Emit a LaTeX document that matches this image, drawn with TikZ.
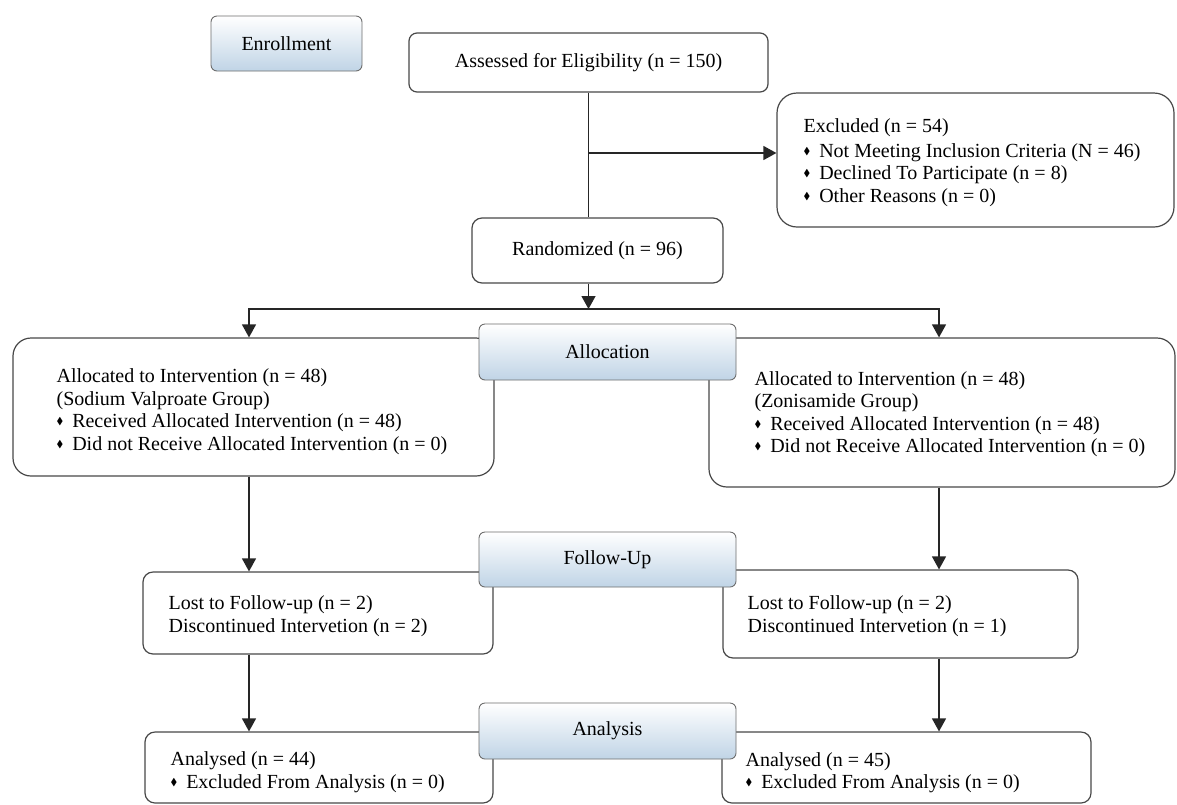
\documentclass[tikz,border=0pt]{standalone}
\usepackage{fontspec}
\setmainfont{Liberation Serif}
\usepackage{amssymb}
\usepackage{graphicx}
\usetikzlibrary{arrows.meta,positioning,calc}

\definecolor{stageblue}{RGB}{192,212,230}
\definecolor{edgegray}{RGB}{72,72,72}
\newcommand{\dmd}{\raisebox{0.3ex}{\scalebox{0.5}{$\blacklozenge$}}\hspace{0.45em}}

\begin{document}
\begin{tikzpicture}[x=1pt, y=-1pt,
  box/.style={draw=edgegray, line width=1.2pt, rounded corners=#1, fill=white,
    inner sep=0pt, font=\fontsize{20}{22.5}\selectfont},
  box/.default=10pt,
  stage/.style={draw=edgegray!80, line width=0.9pt, rounded corners=6pt,
    top color=white, bottom color=stageblue, inner sep=0pt,
    minimum width=257pt, minimum height=56pt, font=\fontsize{20}{22.5}\selectfont},
  txt/.style={anchor=west, align=left, inner sep=0pt,
    font=\fontsize{20}{22.5}\selectfont},
  e/.style={draw=black!85, line width=1.3pt},
  arr/.style={e, -{Triangle[length=13pt, width=14pt]}},
]
\useasboundingbox (0,0) rectangle (1177,804);
% enrollment
\node[stage, minimum width=151pt, minimum height=55pt] (enroll) at (286.5,43.5) {Enrollment};
\node[box=8pt, minimum width=359pt, minimum height=59pt] (assess) at (588.5,62.5) {Assessed for Eligibility (n = 150)};
\node[box=20pt, minimum width=397pt, minimum height=134pt] (excl) at (975.5,160) {};
\node[txt] (exclT) at ([xshift=27pt, yshift=-2.5pt]excl.west)
  {Excluded (n = 54)\\[2pt]
   \dmd Not Meeting Inclusion Criteria (N = 46)\\
   \dmd Declined To Participate (n = 8)\\
   \dmd Other Reasons (n = 0)};
\node[box=10pt, minimum width=251pt, minimum height=65pt] (rand) at (597.5,250.5) {Randomized (n = 96)};
% allocation
\node[box=18pt, minimum width=481pt, minimum height=138pt] (allocL) at (253.5,407) {};
\node[txt] (allocLT) at ([xshift=44pt, yshift=-4.5pt]allocL.west)
  {Allocated to Intervention (n = 48)\\
   (Sodium Valproate Group)\\
   \dmd Received Allocated Intervention (n = 48)\\
   \dmd Did not Receive Allocated Intervention (n = 0)};
\node[box=18pt, minimum width=466pt, minimum height=149pt] (allocR) at (942,412.5) {};
\node[txt] (allocRT) at ([xshift=46pt, yshift=-1.5pt]allocR.west)
  {Allocated to Intervention (n = 48)\\
   (Zonisamide Group)\\
   \dmd Received Allocated Intervention (n = 48)\\
   \dmd Did not Receive Allocated Intervention (n = 0)};
% follow-up
\node[box=10pt, minimum width=350pt, minimum height=82pt] (lostL) at (318,613) {};
\node[txt] (lostLT) at ([xshift=26pt, yshift=-3pt]lostL.west)
  {Lost to Follow-up (n = 2)\\Discontinued Intervetion (n = 2)};
\node[box=10pt, minimum width=355pt, minimum height=88pt] (lostR) at (900.5,614) {};
\node[txt] (lostRT) at ([xshift=25pt, yshift=-2pt]lostR.west)
  {Lost to Follow-up (n = 2)\\Discontinued Intervetion (n = 1)};
% analysis
\node[box=10pt, minimum width=348pt, minimum height=71pt] (anaL) at (319,767.5) {};
\node[txt] (anaLT) at ([xshift=26pt, yshift=-4.5pt]anaL.west)
  {Analysed (n = 44)\\\dmd Excluded From Analysis (n = 0)};
\node[box=10pt, minimum width=369pt, minimum height=71pt] (anaR) at (906.5,767.5) {};
\node[txt] (anaRT) at ([xshift=24pt, yshift=-5pt]anaR.west)
  {Analysed (n = 45)\\\dmd Excluded From Analysis (n = 0)};
% stage labels on top
\node[stage] (allocation) at (607.5,352) {Allocation};
\node[stage, minimum height=55pt] (follow) at (607.5,559.5) {Follow-Up};
\node[stage] (analysis) at (607.5,731) {Analysis};
% connectors
\coordinate (split) at (588.5,153);
\coordinate (fork) at (588.5,309);
\coordinate (colL) at (249,309);
\coordinate (colR) at (939,309);
\draw[e] (assess.south) -- (assess.south |- rand.north);
\draw[arr] (split) -- (split -| excl.west);
\draw[arr] (rand.south -| fork) -- (fork);
\draw[arr] (fork) -| (colL |- allocL.north);
\draw[arr] (fork) -| (colR |- allocR.north);
\draw[arr] (colL |- allocL.south) -- (colL |- lostL.north);
\draw[arr] (colL |- lostL.south) -- (colL |- anaL.north);
\draw[arr] (colR |- allocR.south) -- (colR |- lostR.north);
\draw[arr] (colR |- lostR.south) -- (colR |- anaR.north);
\end{tikzpicture}
\end{document}
